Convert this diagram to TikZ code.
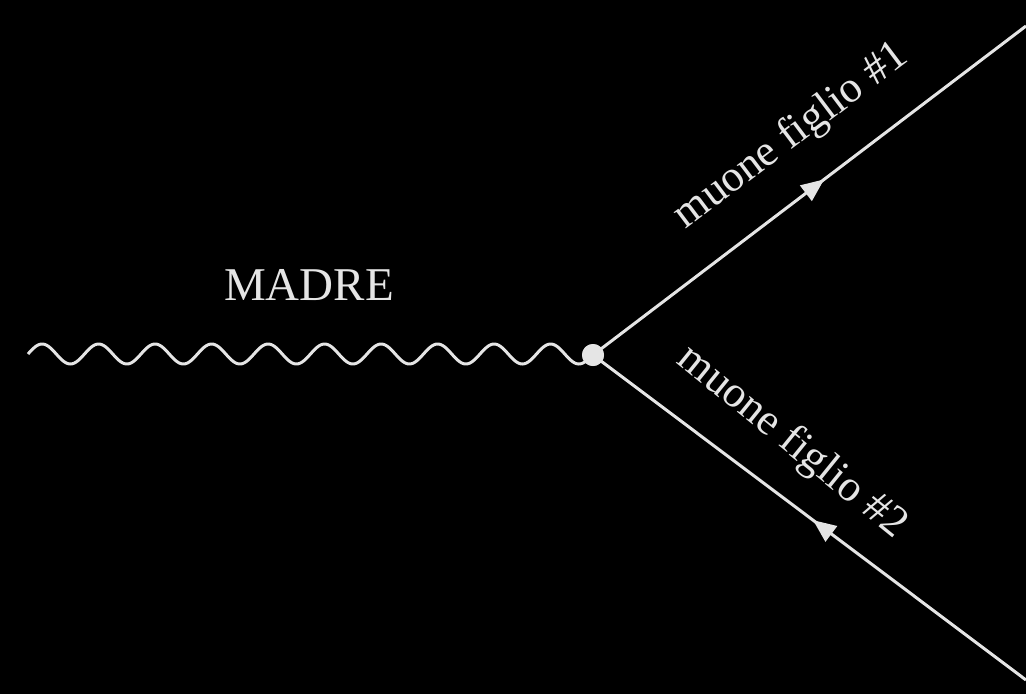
\documentclass[tikz,border=0pt]{standalone}
\usepackage{fontspec}
\setmainfont{Liberation Serif}
\usetikzlibrary{decorations.markings,arrows.meta}
\definecolor{fg}{gray}{0.9}
\tikzset{
  wave/.style={draw=fg, line width=3pt, line join=round},
  fermion/.style={draw=fg, line width=3pt, postaction={decorate},
    decoration={markings, mark=at position #1 with {\arrow[fg]{Triangle[length=23pt,width=19pt]}}}},
  lbl/.style={text=fg, font=\fontsize{44}{50}\selectfont, anchor=base, inner sep=0pt},
  vtx/.style={circle, fill=fg, draw=none, minimum size=22pt, inner sep=0pt}
}
\begin{document}
\begin{tikzpicture}[x=1pt,y=-1pt]
  \fill[black] (0,0) rectangle (1026,694);
  \useasboundingbox (0,0) rectangle (1026,694);
  \coordinate (m) at (28,354);
  \node[vtx] (v) at (593,355) {};
  \coordinate (e1) at (1026,26);
  \coordinate (e2) at (1026,680);
  \draw[wave] (m) plot[domain=0:565, samples=400] ({28+\x},{354-10*sin(\x*6.3717)}) -- (v.center);
  \draw[fermion=0.534] (v.center) -- (e1);
  \draw[fermion=0.492] (e2) -- (v.center);
  \node[vtx] at (v) {};
  \node[lbl, font=\fontsize{47}{52}\selectfont] (madre) at (309,300) {MADRE};
  \node[lbl, rotate=37] (f1) at (798,145) {muone figlio \#1};
  \node[lbl, rotate=-39] (f2) at (785,451) {muone figlio \#2};
\end{tikzpicture}
\end{document}
